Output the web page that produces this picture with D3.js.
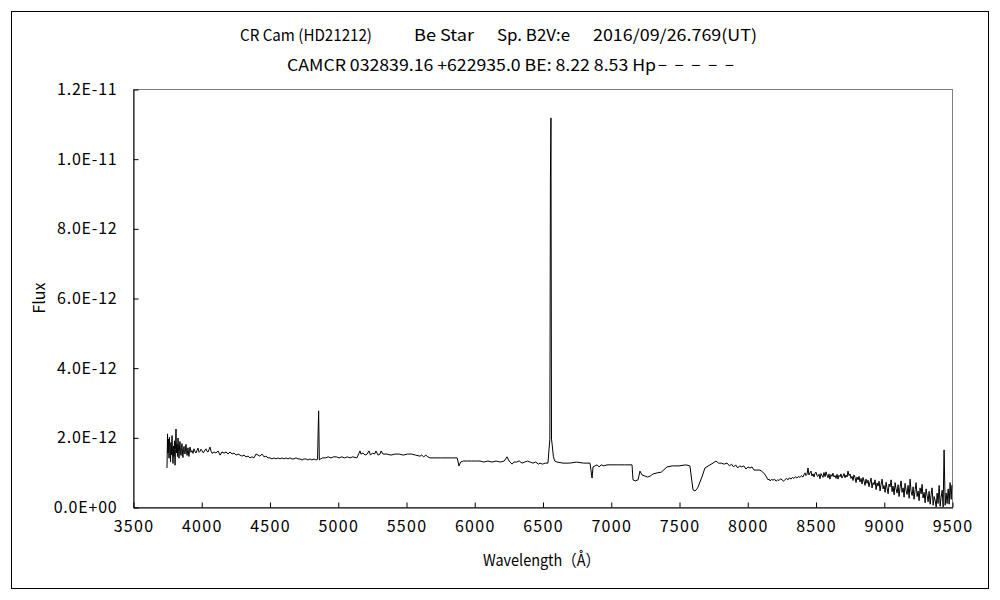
<!DOCTYPE html>
<html><head><meta charset="utf-8">
<script src="https://cdn.jsdelivr.net/npm/d3@7"></script>
<style>
body{margin:0;background:#fff;}
text{font-family:"Noto Sans CJK JP","Noto Sans",sans-serif;fill:#000;}
</style></head>
<body>
<svg id="c" width="1000" height="600"></svg>
<script>
// ---- data ----
const titleLine1 = ["CR Cam (HD21212)", "Be Star", "Sp. B2V:e", "2016/09/26.769(UT)"];
const titleLine2 = "CAMCR 032839.16 +622935.0 BE: 8.22 8.53 Hp";
const titleDashes = "−−−−−";
const xTicks = [3500,4000,4500,5000,5500,6000,6500,7000,7500,8000,8500,9000,9500];
const yTicks = [0,2,4,6,8,10,12]; // units of 1e-12
const yTickLabels = ["0.0E+00","2.0E-12","4.0E-12","6.0E-12","8.0E-12","1.0E-11","1.2E-11"];
const xTitle = "Wavelength（Å）";
const yTitle = "Flux";
const wavelength = [
3749,3753,3756,3760,3764,3767,3771,3775,3778,3782,3786,3789,3793,3797,3800,3804,3808,3811,3815,3819,3822,3826,3830,3834,3837,3841,3844,3848,3852,3855,3859,3863,3866,3870,3874,3877,3881,3885,3888,3892,3896,3900,3903,3907,3910,3914,3918,3925,3932,3940,3947,3954,3962,3969,3976,3984,3991,3998,4005,4013,4020,4028,4035,4042,4050,4057,4064,4072,4079,
4094,4108,4123,4138,4152,4167,4182,4196,4211,4226,4240,4255,4270,4284,4299,4313,4328,4343,4357,4372,4386,4401,4416,4430,4445,4460,4474,4489,4504,4518,4533,4548,4562,4577,4591,4606,4621,4635,4650,4665,4679,4694,4709,4723,4738,4753,4767,4782,4797,4811,4826,4840,4852,4856,4860,4865,4875,4890,4910,4930,4950,4970,4990,5010,5030,5050,5070,5090,5110,5140,5163,5170,5185,5200,5215,5229,5240,5255,5270,5280,5295,5310,5317,5331,5360,5390,5420,5450,5480,5510,5540,5570,5603,5615,5630,5645,5660,5676,5720,5760,5800,5840,5875,5888,5900,5920,5950,5980,6010,6042,6070,6100,6130,6160,6190,6220,6240,6255,6277,6290,6310,6330,6350,6370,6390,6410,6430,6450,6470,6482,6500,6520,6540,6548,6554,6558,6562,6566,6572,6580,6590,6606,6650,6700,6750,6800,6848,6863,6870,6885,6900,6915,6930,6950,6972,7010,7050,7100,7156,7163,7180,7200,7214,7229,7250,7270,7290,7310,7340,7370,7412,7450,7500,7550,7580,7595,7603,7617,7632,7639,7668,7690,7727,7749,7771,7790,7810,7830,7852,7870,7885,7900,7915,7930,7945,7960,7975,7990,8005,8020,8035,8050,8071,
8093,8104,8115,8126,8137,8145,8152,8160,8167,8178,8189,8200,8211,8222,8233,8244,8255,8266,8277,8288,8299,8310,8320,8331,8342,8353,8364,8375,8386,8397,8408,8416,8423,8430,8438,
8445,8452,8460,8467,8474,8482,8489,8496,8504,8511,
8518,8526,8533,8540,8548,8555,8562,8570,8577,8584,
8592,8599,8606,8614,8621,8628,8636,8643,8650,8658,
8665,8672,8680,8687,8694,8702,8709,8716,8724,8731,
8738,8746,8753,8760,8768,8775,8782,8790,8797,8804,
8812,8819,8826,8834,8841,8848,8856,8863,8870,8878,
8885,8892,8900,8907,8914,8922,8929,8936,8944,8951,
8958,8966,8973,8980,8988,8995,9002,9010,9017,9024,
9032,9039,9046,9054,9061,9068,9076,9083,9090,9098,
9105,9112,9120,9127,9134,9142,9149,9156,9164,9171,
9178,9186,9193,9200,9208,9215,9222,9230,9237,9244,
9252,9259,9266,9274,9281,9288,9296,9303,9310,9318,
9325,9332,9340,9347,9354,9362,9369,9376,9384,9391,
9398,9406,9413,9420,9428,9435,9442,9450,9457,9464,
9472,9479,9486,9494,9499];
const flux = [
1.12,2.10,1.55,1.95,1.40,2.00,1.70,1.30,1.85,1.50,2.05,1.60,1.25,1.75,1.45,1.90,1.20,1.65,2.24,1.55,1.80,1.45,1.98,1.60,1.40,1.75,1.88,1.55,1.48,1.70,1.82,1.50,1.42,1.65,1.74,1.56,1.52,1.66,1.80,1.60,1.48,1.62,1.70,1.52,1.45,1.63,1.72,1.57,1.62,1.54,1.67,1.60,1.55,1.63,1.69,1.57,1.60,1.66,1.62,1.56,1.58,1.64,1.67,1.60,1.58,1.65,1.72,1.60,1.54,
1.58,1.55,1.61,1.49,1.58,1.55,1.58,1.52,1.58,1.52,1.55,1.49,1.52,1.49,1.46,1.49,1.44,1.46,1.41,1.44,1.41,1.52,1.49,1.46,1.52,1.44,1.46,1.41,1.41,1.38,1.41,1.38,1.41,1.38,1.41,1.38,1.41,1.38,1.41,1.38,1.38,1.41,1.38,1.38,1.35,1.38,1.38,1.35,1.38,1.35,1.38,1.35,1.37,2.12,2.76,1.35,1.38,1.41,1.41,1.44,1.41,1.44,1.44,1.41,1.44,1.41,1.44,1.41,1.44,1.41,1.61,1.52,1.55,1.49,1.52,1.61,1.49,1.55,1.52,1.61,1.49,1.52,1.61,1.52,1.52,1.49,1.52,1.52,1.49,1.52,1.52,1.49,1.46,1.49,1.44,1.49,1.44,1.41,1.41,1.41,1.41,1.41,1.41,1.18,1.29,1.32,1.32,1.32,1.32,1.32,1.29,1.32,1.29,1.32,1.29,1.32,1.44,1.32,1.23,1.29,1.29,1.32,1.26,1.29,1.32,1.29,1.26,1.29,1.23,1.26,1.23,1.26,1.26,1.67,1.95,9.47,11.17,1.95,1.75,1.44,1.32,1.29,1.26,1.26,1.29,1.26,1.26,0.83,1.15,1.18,1.21,1.15,1.21,1.18,1.21,1.21,1.21,1.21,1.21,0.78,0.75,0.78,1.03,0.92,0.89,0.86,0.89,0.95,0.98,1.00,1.15,1.18,1.18,1.21,1.18,0.72,0.49,0.46,0.52,0.57,0.86,1.12,1.21,1.26,1.32,1.26,1.26,1.23,1.26,1.18,1.23,1.15,1.21,1.12,1.18,1.15,1.18,1.09,1.15,1.12,1.15,1.06,1.06,
1.06,1.03,1.00,0.95,0.89,0.83,0.78,0.80,0.75,0.79,0.77,0.80,0.74,0.78,0.76,0.81,0.78,0.74,0.79,0.82,0.78,0.84,0.80,0.85,0.82,0.87,0.83,0.88,0.85,0.90,0.86,0.93,0.98,0.90,0.94,
1.12,0.92,0.98,1.03,0.89,0.95,0.86,0.97,1.00,0.90,
0.88,0.94,0.81,0.96,0.90,0.85,0.99,0.87,1.01,0.92,
0.84,0.95,0.80,0.93,0.88,0.97,0.86,0.90,0.82,0.94,
0.80,0.91,0.87,0.95,0.83,0.89,0.96,0.84,0.92,0.86,
1.03,0.90,0.95,0.82,0.88,0.76,0.92,0.84,0.70,0.86,
0.78,0.88,0.72,0.82,0.66,0.85,0.74,0.62,0.80,0.68,
0.77,0.58,0.72,0.83,0.55,0.70,0.64,0.78,0.50,0.69,
0.60,0.74,0.46,0.65,0.80,0.52,0.62,0.42,0.71,0.55,
0.38,0.66,0.58,0.78,0.44,0.60,0.35,0.70,0.52,0.40,
0.64,0.30,0.58,0.75,0.42,0.55,0.28,0.68,0.47,0.36,
0.62,0.25,0.80,0.45,0.33,0.58,0.22,0.50,0.70,0.30,
0.46,0.18,0.55,0.38,0.65,0.26,0.42,0.12,0.52,0.32,
0.15,0.45,0.08,0.36,0.55,0.05,0.30,0.20,0.00,0.40,
0.10,0.62,0.02,0.28,0.48,0.00,1.64,0.05,0.40,0.10,
0.52,0.08,0.70,0.22,0.63];

// ---- layout ----
const svg = d3.select("#c");
const L = 133, R = 952, T = 89, B = 507;
const x = d3.scaleLinear().domain([3500, 9500]).range([L, R]);
const y = d3.scaleLinear().domain([0, 12]).range([B, T]);
const FONT = '"Noto Sans CJK JP",sans-serif';

// outer frame
svg.append("rect").attr("x", 11.5).attr("y", 11.5).attr("width", 977).attr("height", 577)
  .attr("fill", "none").attr("stroke", "#000").attr("stroke-width", 1);

// plot box
svg.append("rect").attr("x", L + 0.5).attr("y", T + 0.5).attr("width", R - L).attr("height", B - T)
  .attr("fill", "none").attr("stroke", "#808080").attr("stroke-width", 1);

// axes
const xAxis = d3.axisBottom(x).tickValues(xTicks).tickFormat(d3.format("d"))
  .tickSizeInner(-5).tickSizeOuter(0).tickPadding(13);
const gx = svg.append("g").attr("transform", `translate(0.5,${B + 0.5})`).call(xAxis);
gx.selectAll("text").attr("font-size", 16).attr("letter-spacing", 1.3).style("font-family", FONT);
gx.select(".domain").attr("stroke", "#000");

const yAxis = d3.axisLeft(y).tickValues(yTicks).tickFormat((d, i) => yTickLabels[i])
  .tickSizeInner(-5).tickSizeOuter(0).tickPadding(16);
const gy = svg.append("g").attr("transform", `translate(${L + 0.5},0.5)`).call(yAxis);
gy.selectAll("text").attr("font-size", 16).attr("letter-spacing", 0.8).style("font-family", FONT);
gy.select(".domain").attr("stroke", "#000");

// spectrum
const pts = wavelength.map((w, i) => [w, flux[i]]);
const line = d3.line().x(d => x(d[0])).y(d => y(d[1]));
svg.append("path").datum(pts).attr("d", line).attr("fill", "none")
  .attr("stroke", "#000").attr("stroke-width", 1).attr("stroke-linejoin", "miter");

// titles
const t1x = [240, 414, 497, 593];
const t1w = [132, 60, 73, 164];
titleLine1.forEach((s, i) => {
  svg.append("text").attr("x", t1x[i]).attr("y", 41).attr("font-size", 16)
    .attr("textLength", t1w[i]).attr("lengthAdjust", "spacingAndGlyphs").text(s);
});
svg.append("text").attr("x", 287).attr("y", 71).attr("font-size", 16)
  .attr("textLength", 369).attr("lengthAdjust", "spacingAndGlyphs").text(titleLine2);
svg.append("text").attr("x", 658).attr("y", 71).attr("font-size", 16)
  .attr("textLength", 76).attr("lengthAdjust", "spacing").text(titleDashes);

// axis titles
svg.append("text").attr("x", 483).attr("y", 566).attr("font-size", 16)
  .attr("textLength", 117).attr("lengthAdjust", "spacingAndGlyphs").text(xTitle);
svg.append("text").attr("transform", "translate(45,298) rotate(-90)").attr("text-anchor", "middle")
  .attr("font-size", 16).text(yTitle);
</script>
</body></html>
